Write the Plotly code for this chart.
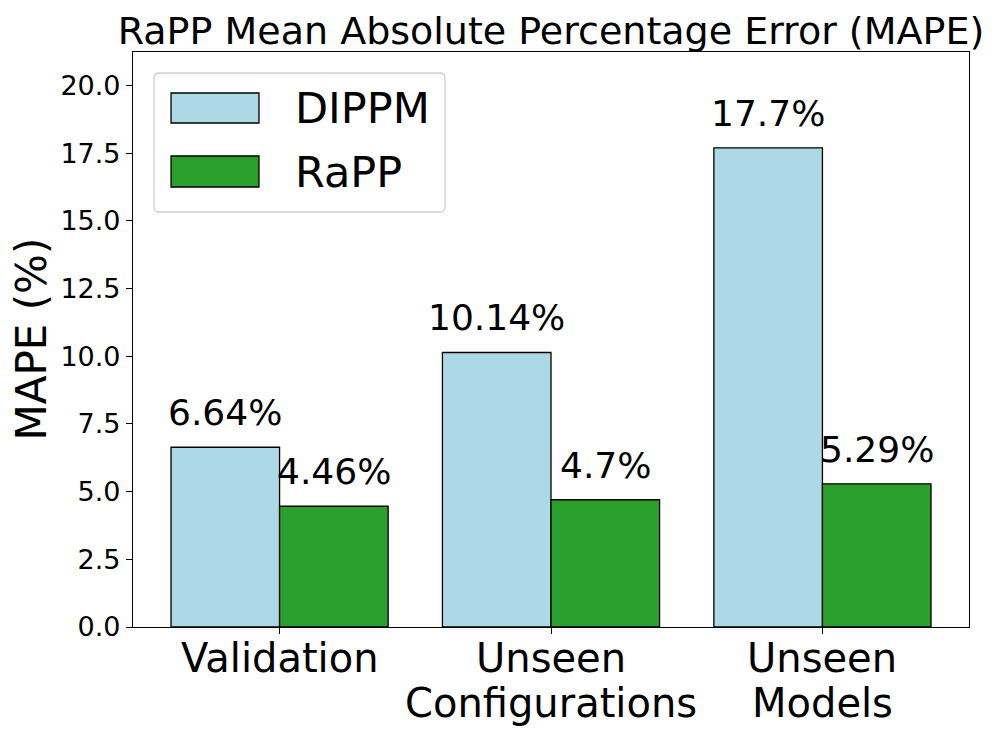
import plotly.graph_objects as go

categories = ["Validation", "Unseen\nConfigurations", "Unseen\nModels"]
series_names = ["DIPPM", "RaPP"]
dippm_values = [6.64, 10.14, 17.7]
rapp_values = [4.46, 4.7, 5.29]
value_labels_dippm = ["6.64%", "10.14%", "17.7%"]
value_labels_rapp = ["4.46%", "4.7%", "5.29%"]
y_ticks = [0.0, 2.5, 5.0, 7.5, 10.0, 12.5, 15.0, 17.5, 20.0]

FONT = "DejaVu Sans"
colors = ["#ADD8E6", "#2CA02C"]
bar_w = 0.4
idx = list(range(len(categories)))

fig = go.Figure()
series = [dippm_values, rapp_values]
labels = [value_labels_dippm, value_labels_rapp]
offsets = [-bar_w / 2, bar_w / 2]
for name, vals, col, off in zip(series_names, series, colors, offsets):
    fig.add_trace(go.Bar(
        x=[i + off for i in idx], y=vals, width=bar_w, name=name,
        marker=dict(color=col, line=dict(color="black", width=1.3)),
        showlegend=False,
    ))

annotations = []
for vals, labs, off in zip(series, labels, offsets):
    for i, v, t in zip(idx, vals, labs):
        annotations.append(dict(
            x=i + off, y=v, xref="x", yref="y", text=t, showarrow=False,
            yanchor="bottom", xanchor="center", yshift=12,
            font=dict(family=FONT, size=36, color="black"),
        ))

# category labels (matplotlib-like line spacing)
for i, cat in zip(idx, categories):
    for k, line in enumerate(cat.split("\n")):
        annotations.append(dict(
            x=i, y=0, xref="x", yref="paper", text=line, showarrow=False,
            xanchor="center", yanchor="top", yshift=-6 - 45 * k,
            font=dict(family=FONT, size=40, color="black"),
        ))

# y axis label
annotations.append(dict(x=-0.122, y=0.5, xref="paper", yref="paper", text="MAPE (%)",
                        showarrow=False, textangle=-90, xanchor="center", yanchor="middle",
                        font=dict(family=FONT, size=42, color="black")))

# custom legend (matplotlib style)
def rounded_rect(x0, y0, x1, y1, rx, ry):
    return (f"M {x0+rx},{y0} L {x1-rx},{y0} Q {x1},{y0} {x1},{y0+ry} "
            f"L {x1},{y1-ry} Q {x1},{y1} {x1-rx},{y1} L {x0+rx},{y1} "
            f"Q {x0},{y1} {x0},{y1-ry} L {x0},{y0+ry} Q {x0},{y0} {x0+rx},{y0} Z")

shapes = [dict(type="path", xref="paper", yref="paper",
               path=rounded_rect(0.0251, 0.7217, 0.3732, 0.9635, 0.006, 0.009),
               line=dict(color="#d0d0d0", width=1.3), fillcolor="rgba(255,255,255,0.8)")]
leg_rows = [(0.8765, 0.9287, 0.9026), (0.7652, 0.8191, 0.7921)]
for name, col, (yb, yt, yc) in zip(series_names, colors, leg_rows):
    shapes.append(dict(type="rect", xref="paper", yref="paper",
                       x0=0.0455, x1=0.1507, y0=yb, y1=yt,
                       fillcolor=col, line=dict(color="black", width=1.3)))
    annotations.append(dict(x=0.1914, y=yc, xref="paper", yref="paper", text=name,
                            showarrow=False, xanchor="left", yanchor="middle",
                            font=dict(family=FONT, size=43, color="black")))

# page body has an 8px margin; compensate so the plot lands where the reference has it
fig.update_layout(
    width=989, height=726,
    margin=dict(l=125, r=28, t=44, b=107),
    paper_bgcolor="white", plot_bgcolor="white",
    barmode="overlay",
    title=dict(text="RaPP Mean Absolute Percentage Error (MAPE)",
               font=dict(family=FONT, size=38, color="black"),
               x=0.5, xref="paper", xanchor="center",
               y=1, yref="paper", yanchor="bottom", pad=dict(b=8)),
    font=dict(family=FONT, color="black"),
    shapes=shapes,
    annotations=annotations,
    xaxis=dict(range=[-0.54, 2.54], tickvals=idx, showticklabels=False,
               ticks="outside", ticklen=6, tickcolor="black", tickwidth=1.2,
               showline=True, linecolor="black", linewidth=1.2, mirror=True,
               showgrid=False, zeroline=False, automargin=False),
    yaxis=dict(range=[0, 21.24], tickvals=y_ticks,
               ticktext=[f"{t:.1f}" for t in y_ticks],
               tickfont=dict(family=FONT, size=27, color="black"),
               ticks="outside", ticklen=6, tickcolor="black", tickwidth=1.2,
               showline=True, linecolor="black", linewidth=1.2, mirror=True,
               showgrid=False, zeroline=False, automargin=False),
)

fig.write_html("out.html")
